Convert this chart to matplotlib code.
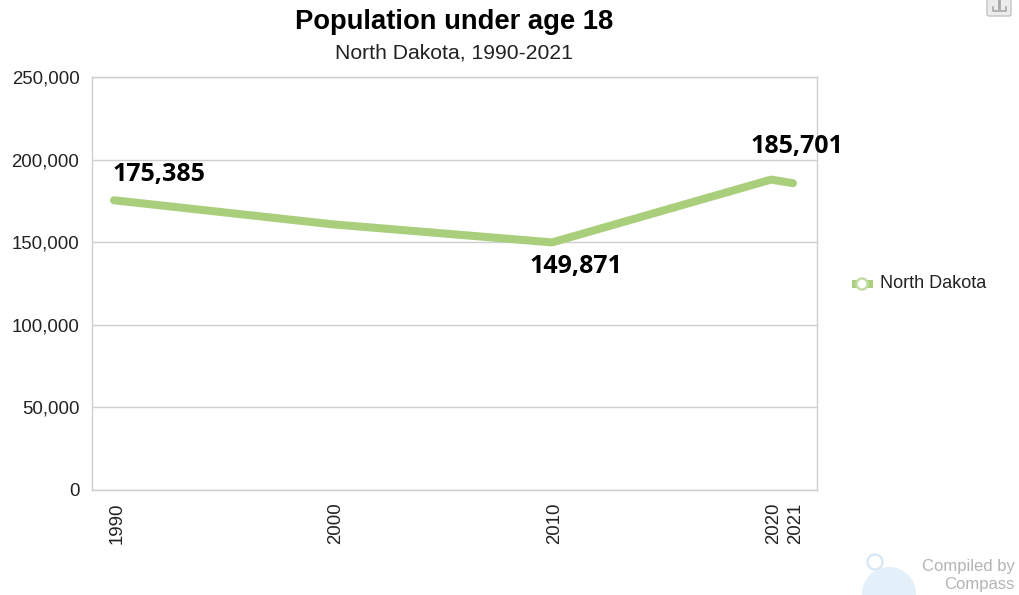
import numpy as np
import matplotlib
matplotlib.use("Agg")
import matplotlib.pyplot as plt
import matplotlib.transforms as mtrans
from matplotlib.patches import Circle, FancyBboxPatch, Rectangle

W, H = 1020, 595

# === Data ===
years = [1990, 2000, 2010, 2020, 2021]
population = [175385, 160800, 149871, 187900, 185701]
ytick_vals = [0, 50000, 100000, 150000, 200000, 250000]
callouts = ["175,385", "149,871", "185,701"]

GREEN = "#a9cf7c"
GRID = "#cfcfcf"
TEXT = "#222222"

plt.rcParams['font.family'] = ['Liberation Sans', 'DejaVu Sans']

fig = plt.figure(figsize=(W / 100, H / 100), dpi=100)
ax = fig.add_axes([92 / W, 1 - 490 / H, (817 - 92) / W, (490 - 77) / H])

# === Line ===
ax.plot(years, population, color=GREEN, lw=5.8, solid_capstyle="round", solid_joinstyle="round", clip_on=False)

# 1990 sits at x=114 and 2021 at x=793 in the picture
px_per_year = (793 - 114) / 31
ax.set_xlim(1990 - (114 - 92) / px_per_year, 2021 + (817 - 793) / px_per_year)
ax.set_ylim(0, 250000)

ax.set_yticks(ytick_vals)
ax.set_yticklabels([f"{v:,}" for v in ytick_vals], fontsize=13.4, color=TEXT)
ax.set_xticks(years)
ax.set_xticklabels(years, rotation=90, fontsize=13.4, color=TEXT)
ax.tick_params(axis="y", length=0, pad=9)
ax.tick_params(axis="x", length=0, pad=9)
# labels sit a little right of their ticks in the picture
shift = mtrans.ScaledTranslation(3 / 100, 0, fig.dpi_scale_trans)
for lab in ax.get_xticklabels():
    lab.set_transform(lab.get_transform() + shift)

ax.grid(axis="y", color=GRID, lw=1)
ax.set_axisbelow(True)
for s in ax.spines.values():
    s.set_color(GRID)
    s.set_linewidth(1)

# === Overlay in pixel coords for the chart furniture ===
over = fig.add_axes([0, 0, 1, 1], facecolor="none")
over.set_xlim(0, W)
over.set_ylim(H, 0)
over.set_aspect("equal")
over.axis("off")

# === Titles ===
over.text(454, 22, "Population under age 18", ha="center", va="center",
          fontsize=19.7, fontweight="bold", color="black")
over.text(454, 53, "North Dakota, 1990-2021", ha="center", va="center",
          fontsize=15.2, color=TEXT)

# === Value callouts ===
lab_kw = dict(ha="center", va="center", fontsize=18, fontweight="bold", color="black",
              family=["Open Sans", "DejaVu Sans"])
over.text(159, 175, callouts[0], **lab_kw)
over.text(576, 267, callouts[1], **lab_kw)
over.text(797, 147, callouts[2], **lab_kw)

# === Legend ===
over.add_patch(Rectangle((852, 280), 21, 8, color=GREEN, lw=0))
over.add_patch(Circle((862, 284), 5.5, fc="white", ec="#c3dca6", lw=1.8))
over.text(880, 284, "North Dakota", ha="left", va="center", fontsize=13, color=TEXT)

# === Watermark ===
over.add_patch(Circle((875, 562), 7.5, fc="none", ec="#d5e6f5", lw=1.6))
over.add_patch(Circle((889, 594), 27, fc="#e3eff9", ec="none", clip_on=True))
over.text(1015, 566, "Compiled by", ha="right", va="center", fontsize=12, color="#b4b4b4")
over.text(1015, 585, "Compass", ha="right", va="center", fontsize=12, color="#b4b4b4")

# === Download button ===
over.add_patch(FancyBboxPatch((987, -6), 24, 22, boxstyle="round,pad=0,rounding_size=2",
                              fc="#ececec", ec="#c4c4c4", lw=1))
over.plot([993, 993, 1006, 1006], [7, 11, 11, 7], color="#a8a8a8", lw=1.2)
over.plot([999.5, 999.5], [0, 8], color="#a8a8a8", lw=2)

fig.savefig("out.png", dpi=100, facecolor="white")
